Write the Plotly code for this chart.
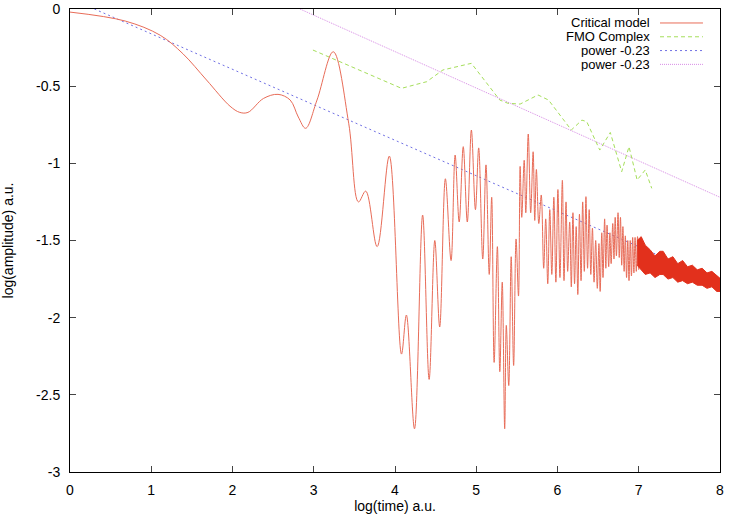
import plotly.graph_objects as go

# Critical model: resolved oscillations (peaks / troughs)
crit_x = [
    0.00, 0.68, 1.11, 1.39, 1.68, 1.97, 2.09, 2.19, 2.38, 2.56, 2.71, 2.81, 2.90, 3.04, 3.24,
    3.43, 3.55, 3.64, 3.78, 3.93, 4.08, 4.14, 4.24, 4.34, 4.42, 4.49, 4.55, 4.62, 4.69, 4.74,
    4.79, 4.84, 4.89, 4.94, 4.99, 5.03, 5.08, 5.12, 5.16, 5.19, 5.22, 5.26, 5.29, 5.32, 5.35,
    5.37, 5.40, 5.43, 5.46, 5.49, 5.52, 5.54, 5.56, 5.59, 5.61, 5.64, 5.67, 5.70, 5.72, 5.74,
    5.77, 5.80, 5.83, 5.855, 5.88, 5.905, 5.93, 5.955, 5.98, 6.005, 6.03, 6.06, 6.08, 6.105,
    6.125, 6.15, 6.17, 6.19, 6.21, 6.23, 6.25, 6.27, 6.29, 6.31, 6.33, 6.35, 6.37, 6.39, 6.41,
    6.43, 6.45, 6.47, 6.49, 6.51, 6.525, 6.545, 6.56, 6.58, 6.595, 6.61, 6.63, 6.645, 6.66,
    6.68, 6.695, 6.71, 6.725, 6.745, 6.76, 6.775, 6.79, 6.805, 6.82, 6.835, 6.85, 6.865, 6.88,
    6.895, 6.91, 6.925, 6.94, 6.955, 6.97, 6.985, 7.00,
]
crit_y = [
    -0.02, -0.078, -0.17, -0.29, -0.46, -0.63, -0.67, -0.67, -0.58, -0.553, -0.59, -0.70, -0.773, -0.59, -0.277,
    -0.74, -1.25, -1.18, -1.54, -0.953, -2.236, -1.983, -2.72, -1.335, -2.40, -1.50, -2.06, -1.10, -1.63, -0.946,
    -1.38, -0.892, -1.38, -0.784, -1.30, -0.90, -1.62, -1.01, -1.72, -1.22, -2.29, -1.54, -2.35, -1.77, -2.72,
    -2.05, -2.44, -1.605, -2.31, -1.49, -1.86, -1.02, -1.35, -0.98, -1.32, -0.81, -1.32, -0.925, -1.37, -1.04,
    -1.39, -1.205, -1.68, -1.36, -1.78, -1.30, -1.72, -1.22, -1.77, -1.17, -1.74, -1.11, -1.76, -1.25,
    -1.70, -1.38, -1.80, -1.32, -1.78, -1.41, -1.85, -1.33, -1.76, -1.25, -1.70, -1.216, -1.68, -1.30, -1.72,
    -1.42, -1.77, -1.50, -1.81, -1.52, -1.83, -1.45, -1.74, -1.36, -1.68, -1.40, -1.67, -1.45, -1.65,
    -1.39, -1.62, -1.35, -1.60, -1.32, -1.61, -1.35, -1.66, -1.41, -1.70, -1.47, -1.74, -1.50, -1.76,
    -1.50, -1.73, -1.48, -1.71, -1.48, -1.70, -1.475, -1.69,
]

# Critical model: unresolved tail, upper / lower envelope of the dense band
band_x = [6.98, 7.03, 7.08, 7.14, 7.20, 7.26, 7.30, 7.36, 7.42, 7.48, 7.54, 7.60, 7.66, 7.72, 7.78, 7.84, 7.90, 7.96, 8.00]
band_hi = [-1.50, -1.475, -1.53, -1.56, -1.60, -1.57, -1.57, -1.62, -1.605, -1.65, -1.63, -1.67, -1.66, -1.69, -1.68, -1.71, -1.70, -1.73, -1.745]
band_lo = [-1.66, -1.69, -1.72, -1.71, -1.74, -1.72, -1.72, -1.75, -1.74, -1.77, -1.76, -1.78, -1.77, -1.79, -1.79, -1.81, -1.80, -1.83, -1.83]

# FMO Complex
fmo_x = [2.99, 4.08, 4.39, 4.59, 4.94, 5.29, 5.39, 5.54, 5.76, 5.89, 6.17, 6.30, 6.36, 6.52, 6.65, 6.79, 6.88, 6.98, 7.08, 7.16]
fmo_y = [-0.266, -0.514, -0.471, -0.395, -0.352, -0.59, -0.611, -0.616, -0.557, -0.59, -0.784, -0.72, -0.73, -0.914, -0.80, -1.054, -0.892, -1.108, -1.043, -1.162]

# power -0.23 fits (end points)
pow1_x = [0.30, 8.00]
pow1_y = [0.00, -1.77]
pow2_x = [2.83, 8.00]
pow2_y = [0.00, -1.22]

x_ticks = [0, 1, 2, 3, 4, 5, 6, 7, 8]
y_ticks = [0, -0.5, -1, -1.5, -2, -2.5, -3]
y_tick_labels = ["0", "-0.5", "-1", "-1.5", "-2", "-2.5", "-3"]

legend_names = ["Critical model", "FMO Complex", "power -0.23", "power -0.23"]

RED = "rgb(232,108,88)"
RED_BAND = "rgb(226,48,28)"
GREEN = "rgb(165,222,90)"
BLUE = "rgb(112,112,228)"
PINK = "rgb(216,140,230)"
FONT = "Liberation Sans, Arial, sans-serif"

fig = go.Figure()

fig.add_trace(go.Scatter(
    x=pow2_x, y=pow2_y, mode="lines",
    line=dict(color=PINK, width=1, dash="1px,1px"), showlegend=False,
))
fig.add_trace(go.Scatter(
    x=pow1_x, y=pow1_y, mode="lines",
    line=dict(color=BLUE, width=1, dash="2px,3px"), showlegend=False,
))
fig.add_trace(go.Scatter(
    x=fmo_x, y=fmo_y, mode="lines",
    line=dict(color=GREEN, width=1, dash="4px,3px"), showlegend=False,
))
fig.add_trace(go.Scatter(
    x=crit_x, y=crit_y, mode="lines",
    line=dict(color=RED, width=1, shape="spline", smoothing=1.0), showlegend=False,
))
fig.add_trace(go.Scatter(
    x=band_x + band_x[::-1], y=band_hi + band_lo[::-1], mode="lines",
    fill="toself", fillcolor=RED_BAND,
    line=dict(color=RED_BAND, width=1), showlegend=False,
))

# gnuplot-style key: right-aligned text with the line sample on its right
colors = [RED, GREEN, BLUE, PINK]
dashes = ["solid", "4px,3px", "2px,3px", "1px,1px"]
row_y = [0.9698, 0.9400, 0.9102, 0.8804]
for name, c, d, yy in zip(legend_names, colors, dashes, row_y):
    fig.add_annotation(
        text=name, xref="paper", yref="paper", x=0.8954, y=yy,
        xanchor="right", yanchor="middle", showarrow=False, height=13,
        font=dict(family=FONT, size=13, color="black"),
    )
    fig.add_shape(
        type="line", xref="paper", yref="paper",
        x0=0.9077, x1=0.9738, y0=yy, y1=yy,
        line=dict(color=c, width=1, dash=d),
    )

axis_common = dict(
    showline=True, linecolor="black", linewidth=1, mirror="allticks",
    ticks="inside", ticklen=6, tickcolor="#444", tickwidth=1,
    showgrid=False, zeroline=False, ticklabeloverflow="allow",
    tickfont=dict(family=FONT, size=14, color="black"),
)

fig.update_xaxes(
    range=[0, 8], tickvals=x_ticks, ticklabelstandoff=5,
    title=dict(text="log(time) a.u.", font=dict(family=FONT, size=14, color="black"), standoff=2),
    **axis_common,
)
fig.update_yaxes(
    range=[-3, 0], tickvals=y_ticks, ticktext=y_tick_labels,
    ticklabelstandoff=6,
    title=dict(text="log(amplitude) a.u.", font=dict(family=FONT, size=14, color="black"), standoff=20),
    **axis_common,
)

fig.update_layout(
    width=730, height=521,
    margin=dict(l=70, r=10, t=9, b=49, autoexpand=False),
    plot_bgcolor="white", paper_bgcolor="white",
    font=dict(family=FONT, size=14, color="black"),
    showlegend=False,
)

# drop the browser's default body margin so the figure sits at the page corner
fig.write_html(
    "out.html",
    config={"displayModeBar": False},
    post_script="document.body.style.margin='0';",
)
